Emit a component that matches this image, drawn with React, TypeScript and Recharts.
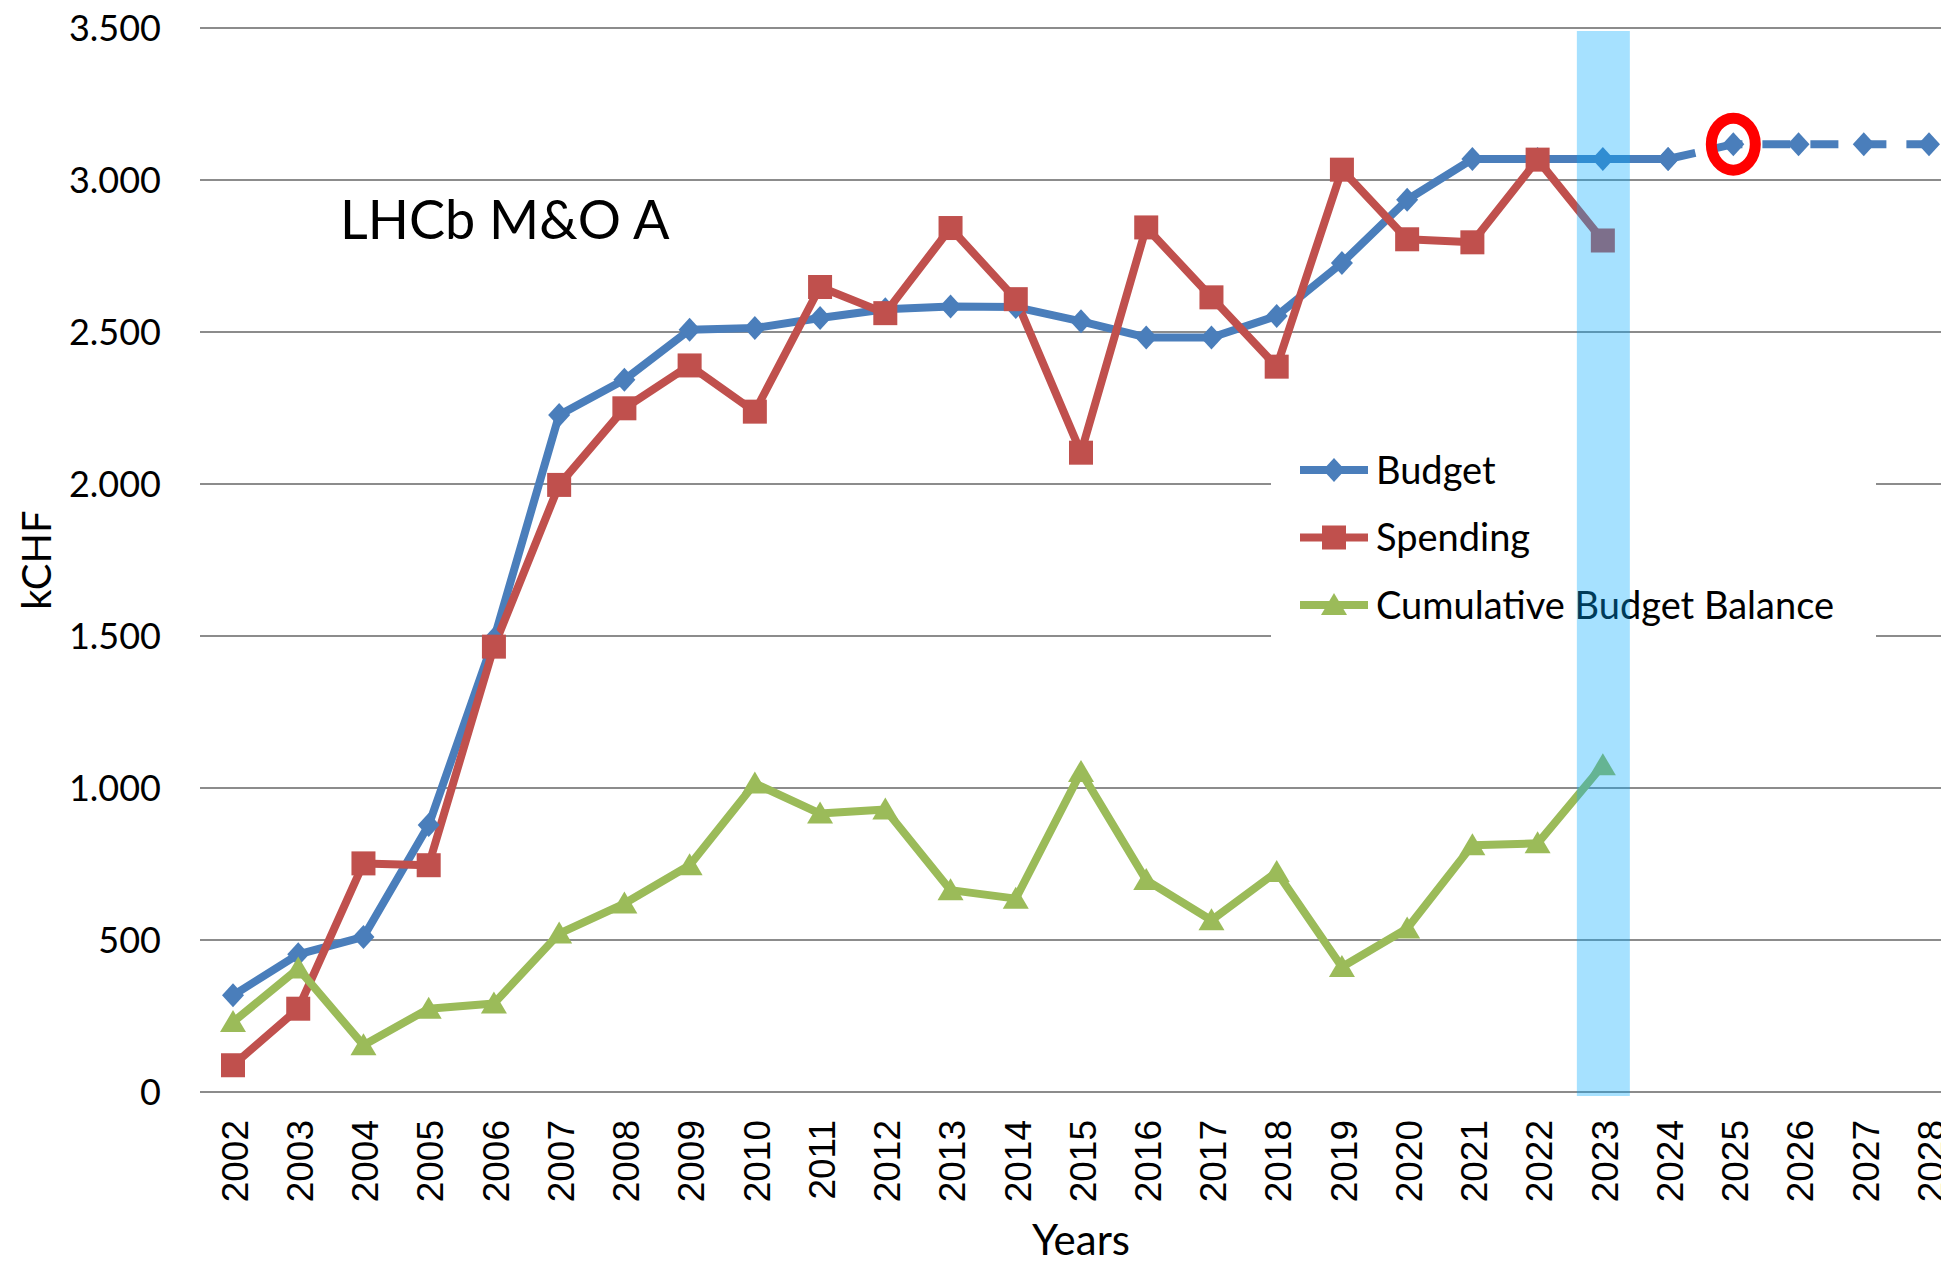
import React from "react";
import {
  ComposedChart,
  Line,
  XAxis,
  YAxis,
  CartesianGrid,
  ReferenceLine,
  ReferenceDot,
  Label,
} from "recharts";

const YEARS = [
  "2002", "2003", "2004", "2005", "2006", "2007", "2008", "2009", "2010",
  "2011", "2012", "2013", "2014", "2015", "2016", "2017", "2018", "2019",
  "2020", "2021", "2022", "2023", "2024", "2025", "2026", "2027", "2028",
];

// kCHF
const BUDGET = [
  318, 453, 510, 878, 1490, 2227, 2343, 2507, 2513, 2546, 2575, 2584, 2582,
  2535, 2482, 2482, 2553, 2727, 2935, 3069, 3069, 3069, 3069,
];
const BUDGET_PLAN = [
  null, null, null, null, null, null, null, null, null, null, null, null, null,
  null, null, null, null, null, null, null, null, null, 3069, 3118, 3118, 3118, 3118,
];
const SPENDING = [
  88, 274, 752, 746, 1465, 1997, 2249, 2390, 2238, 2648, 2562, 2842, 2608,
  2103, 2844, 2614, 2386, 3034, 2805, 2795, 3067, 2801,
];
const BALANCE = [
  230, 406, 154, 274, 291, 521, 620, 746, 1015, 916, 929, 664, 636, 1053, 697,
  565, 724, 411, 538, 812, 818, 1075,
];
const Y_TICKS = [0, 500, 1000, 1500, 2000, 2500, 3000, 3500];

const CURRENT_YEAR = "2023";
const CIRCLED_YEAR = "2025";

const BLUE = "#4a7ebb";
const RED = "#c0504d";
const GREEN = "#9bbb59";
const GRID = "#8c8c8c";
const BAND = "rgba(0,170,255,0.35)";
const SANS = "Lato, 'Open Sans', sans-serif";
const ARIAL = "'Liberation Sans', Arial, sans-serif";

const data = YEARS.map((year, i) => ({
  year,
  budget: BUDGET[i] ?? null,
  plan: BUDGET_PLAN[i] ?? null,
  spending: SPENDING[i] ?? null,
  balance: BALANCE[i] ?? null,
}));

const fmt = (v: number) => String(v).replace(/\B(?=(\d{3})+(?!\d))/g, ".");

const Diamond = ({ cx, cy, fill }: any) =>
  cx == null || cy == null ? null : (
    <polygon
      points={`${cx},${cy - 12} ${cx + 11},${cy} ${cx},${cy + 12} ${cx - 11},${cy}`}
      fill={fill}
    />
  );

const Square = ({ cx, cy, fill }: any) =>
  cx == null || cy == null ? null : (
    <rect x={cx - 12} y={cy - 12} width={24} height={24} fill={fill} />
  );

const Triangle = ({ cx, cy, fill }: any) =>
  cx == null || cy == null ? null : (
    <polygon
      points={`${cx},${cy - 12} ${cx + 13},${cy + 10} ${cx - 13},${cy + 10}`}
      fill={fill}
    />
  );

const dotOf = (Shape: any, fill: string) => (p: any) =>
  <Shape key={`d-${p.index}`} cx={p.cx} cy={p.cy} fill={fill} />;

const XTick = ({ x, y, payload }: any) => (
  <text
    x={x}
    y={y + 28}
    transform={`rotate(-90, ${x}, ${y + 28})`}
    textAnchor="end"
    dy="0.4em"
    fontSize={37}
    fontFamily={ARIAL}
    fill="#000"
  >
    {payload.value}
  </text>
);

// light band over the current year, drawn on top of the series
const Band = (p: any) => {
  const top = Math.min(p.y1, p.y2);
  const bottom = Math.max(p.y1, p.y2);
  return (
    <rect x={p.x1 - 26} y={top + 3} width={53} height={bottom - top + 1} fill={BAND} />
  );
};

const LEGEND = [
  { label: "Budget", color: BLUE, Shape: Diamond },
  { label: "Spending", color: RED, Shape: Square },
  { label: "Cumulative Budget Balance", color: GREEN, Shape: Triangle },
];

const Overlay = () => (
  <g>
    <text x={340} y={239} fontSize={54} fontFamily={SANS} fill="#000">
      LHCb M&amp;O A
    </text>
    <rect x={1271} y={430} width={605} height={220} fill="#fff" />
    {LEGEND.map((item, i) => {
      const y = 470 + i * 67.5;
      return (
        <g key={item.label}>
          <line x1={1300} x2={1368} y1={y} y2={y} stroke={item.color} strokeWidth={8} />
          <item.Shape cx={1334} cy={y} fill={item.color} />
          <text x={1376} y={y} dy="0.36em" fontSize={38} fontFamily={SANS} fill="#000">
            {item.label}
          </text>
        </g>
      );
    })}
  </g>
);

export default function App() {
  return (
    <div
      style={{
        position: "absolute",
        left: 0,
        top: 0,
        width: 1941,
        height: 1263,
        overflow: "hidden",
        background: "#fff",
      }}
    >
      <ComposedChart
        width={1970}
        height={1263}
        data={data}
        margin={{ top: 28, right: 8, bottom: 0, left: 0 }}
      >
        <CartesianGrid vertical={false} stroke={GRID} strokeWidth={2} />
        <XAxis
          dataKey="year"
          interval={0}
          height={171}
          padding={{ left: 33, right: 33 }}
          axisLine={false}
          tickLine={false}
          tickSize={0}
          tickMargin={0}
          tick={<XTick />}
        >
          <Label
            value="Years"
            position="insideBottom"
            offset={8}
            fontSize={42}
            fontFamily={SANS}
            fill="#000"
          />
        </XAxis>
        <YAxis
          width={200}
          domain={[0, 3500]}
          ticks={Y_TICKS}
          axisLine={false}
          tickLine={false}
          tickSize={0}
          tickMargin={39}
          tickFormatter={fmt}
          tick={{ fontSize: 36, fill: "#000", fontFamily: SANS }}
        >
          <Label
            value="kCHF"
            angle={-90}
            position="insideLeft"
            offset={37}
            fontSize={40}
            fontFamily={SANS}
            fill="#000"
            style={{ textAnchor: "middle" }}
          />
        </YAxis>
        <Line
          dataKey="budget"
          stroke={BLUE}
          strokeWidth={8}
          strokeLinejoin="round"
          dot={dotOf(Diamond, BLUE)}
          activeDot={false}
          isAnimationActive={false}
        />
        <Line
          dataKey="plan"
          stroke={BLUE}
          strokeWidth={8}
          strokeDasharray="28 20"
          dot={dotOf(Diamond, BLUE)}
          activeDot={false}
          legendType="none"
          isAnimationActive={false}
        />
        <Line
          dataKey="spending"
          stroke={RED}
          strokeWidth={8}
          strokeLinejoin="round"
          dot={dotOf(Square, RED)}
          activeDot={false}
          isAnimationActive={false}
        />
        <Line
          dataKey="balance"
          stroke={GREEN}
          strokeWidth={8}
          strokeLinejoin="round"
          dot={dotOf(Triangle, GREEN)}
          activeDot={false}
          isAnimationActive={false}
        />
        <ReferenceDot
          x={CIRCLED_YEAR}
          y={BUDGET_PLAN[23] as number}
          shape={(p: any) => (
            <ellipse
              cx={p.cx}
              cy={p.cy}
              rx={22}
              ry={26}
              fill="none"
              stroke="#ff0000"
              strokeWidth={11}
            />
          )}
        />
        <Overlay />
        <ReferenceLine x={CURRENT_YEAR} shape={Band} zIndex={1500} />
      </ComposedChart>
    </div>
  );
}
